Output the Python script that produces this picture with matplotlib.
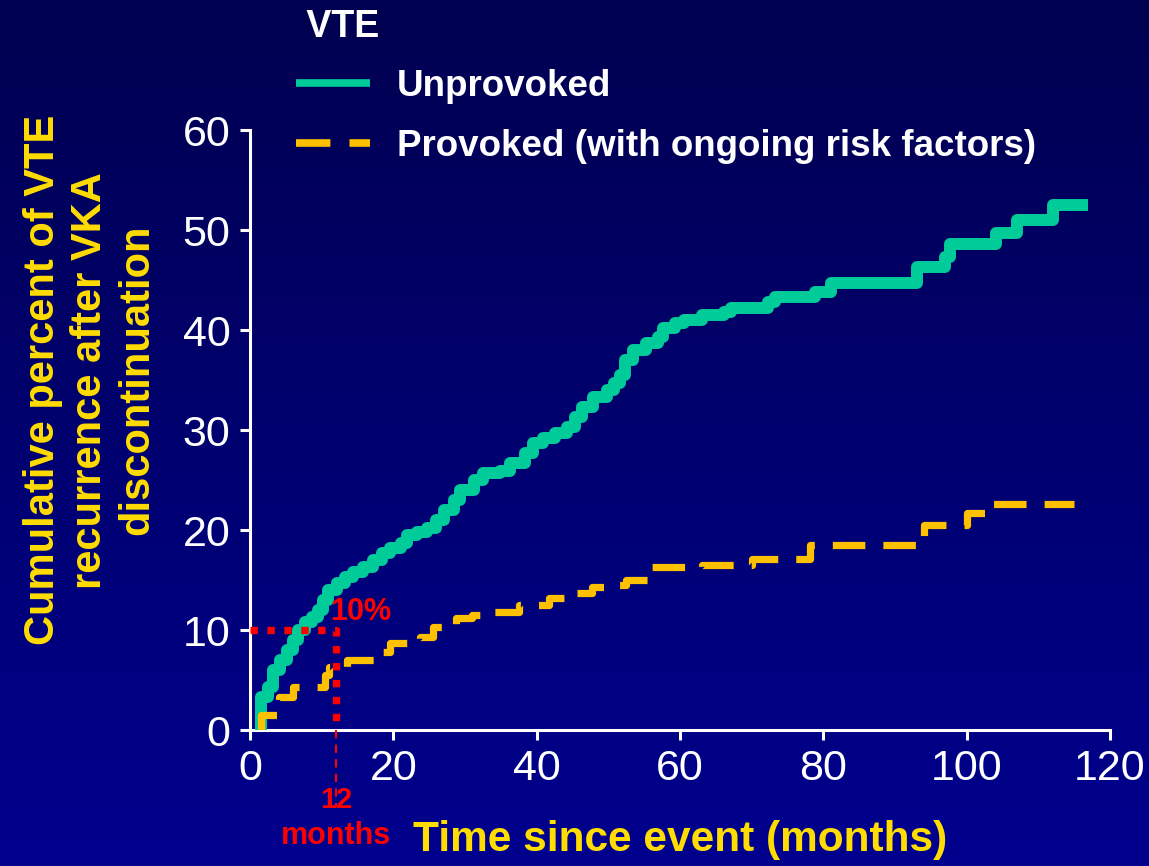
import numpy as np
import matplotlib
matplotlib.use("Agg")
import matplotlib.pyplot as plt
from matplotlib.colors import LinearSegmentedColormap

plt.rcParams['font.family'] = ['Liberation Sans', 'DejaVu Sans']

# ---------------- data ----------------
unprov_t = [1.5, 1.5, 2.5, 3.2, 4.2, 5.1, 6.0, 6.7, 7.7, 8.7, 9.5, 10.2, 10.9, 12.1,
            13.3, 14.4, 15.8, 17.2, 18.4, 19.5, 21.0, 21.9, 23.3, 24.7, 26.0, 27.0,
            28.4, 29.3, 31.2, 32.5, 34.9, 36.3, 38.4, 39.5, 40.9, 42.6, 44.2, 45.4,
            46.3, 47.9, 49.8, 50.8, 51.6, 52.3, 53.5, 55.2, 56.9, 57.6, 59.3, 60.5,
            63.0, 66.1, 67.1, 72.3, 73.3, 78.8, 81.1, 93.1, 97.0, 97.7, 104.1, 107.0,
            112.0, 116.9]
unprov_v = [0.0, 3.3, 4.3, 6.0, 7.0, 8.0, 9.0, 10.0, 10.8, 11.3, 12.0, 13.0, 14.0, 14.7,
            15.3, 15.8, 16.3, 17.0, 17.7, 18.2, 18.7, 19.5, 19.8, 20.2, 21.0, 22.0,
            23.0, 24.0, 25.0, 25.7, 25.9, 26.7, 27.7, 28.7, 29.2, 29.7, 30.3, 31.3,
            32.3, 33.3, 34.0, 34.7, 35.5, 37.0, 38.0, 38.7, 39.3, 40.2, 40.7, 41.0,
            41.5, 41.8, 42.2, 42.8, 43.3, 43.8, 44.7, 46.3, 47.3, 48.6, 49.7, 51.0,
            52.5, 52.5]

prov_t = [1.3, 1.5, 4.0, 6.0, 10.5, 11.0, 13.5, 17.3, 19.5, 23.7, 25.5, 28.7, 31.0,
          32.3, 37.5, 41.7, 44.0, 47.7, 50.0, 52.5, 56.0, 63.0, 70.0, 78.2, 94.0,
          100.0, 103.7, 115.0]
prov_v = [0.0, 1.5, 3.3, 4.3, 5.5, 6.3, 7.0, 7.8, 8.7, 9.3, 10.3, 11.2, 11.5,
          11.8, 12.5, 13.2, 13.7, 14.3, 14.5, 15.0, 16.3, 16.5, 17.1, 18.5, 20.5,
          21.7, 22.6, 22.6]

ref_x = [0, 12, 12]
ref_y = [10, 10, 0]

x_ticks = [0, 20, 40, 60, 80, 100, 120]
y_ticks = [0, 10, 20, 30, 40, 50, 60]

GREEN = '#00CC99'
GOLD = '#FFC000'
YEL = '#FFDD00'
RED = '#FF0000'

# ---------------- figure ----------------
fig = plt.figure(figsize=(11.49, 8.66), dpi=100)

bg = fig.add_axes([0, 0, 1, 1], zorder=-10)
cmap = LinearSegmentedColormap.from_list('bg', ['#000050', '#00008E'])
grad = np.linspace(0, 1, 256).reshape(-1, 1)
bg.imshow(grad, aspect='auto', cmap=cmap, extent=[0, 1, 0, 1], origin='upper')
bg.set_axis_off()

ax = fig.add_axes([0.2176, 0.157, 0.7485, 0.6928])
ax.set_facecolor('none')

ax.plot(unprov_t, unprov_v, drawstyle='steps-post', color=GREEN, lw=8.6,
        solid_joinstyle='round', solid_capstyle='butt', label='Unprovoked', zorder=3)
ax.plot(prov_t, prov_v, drawstyle='steps-post', color=GOLD, lw=5.2,
        linestyle=(0, (4.5, 2.5)), dash_capstyle='butt', dash_joinstyle='round',
        label='Provoked (with ongoing risk factors)', zorder=3)

ax.plot(ref_x, ref_y, color=RED, lw=5.3, linestyle=(0, (1, 1.3)),
        dash_capstyle='butt', zorder=4, clip_on=False)
ax.plot([12, 12], [0, -7.7], color=RED, lw=1.5, linestyle=(0, (4, 3)),
        clip_on=False, zorder=5)

ax.text(11.2, 11.8, '10%', color=RED, fontsize=22, fontweight='bold',
        ha='left', va='center', zorder=5)
ax.text(12, -7.0, '12', color=RED, fontsize=21, fontweight='bold',
        ha='center', va='center', clip_on=False)
ax.text(12, -10.6, 'months', color=RED, fontsize=22, fontweight='bold',
        ha='center', va='center', clip_on=False)

ax.set_xlim(0, 120)
ax.set_ylim(0, 60)
ax.set_xticks(x_ticks)
ax.set_yticks(y_ticks)
for s in ['top', 'right']:
    ax.spines[s].set_visible(False)
for s in ['left', 'bottom']:
    ax.spines[s].set_color('white')
    ax.spines[s].set_linewidth(2.2)
ax.tick_params(axis='both', colors='white', direction='out', length=7, width=2.2,
               labelsize=31)
ax.tick_params(axis='x', pad=7)
ax.tick_params(axis='y', pad=7)

fig.text(90 / 1149, 0.561,
         'Cumulative percent of VTE\nrecurrence after VKA\ndiscontinuation',
         rotation=90, color=YEL, fontsize=30, fontweight='bold',
         ha='center', va='center', multialignment='center', linespacing=1.22)
fig.text(0.592, 0.030, 'Time since event (months)', color=YEL, fontsize=30.5,
         fontweight='bold', ha='center', va='center')

leg = ax.legend(loc='upper left', bbox_to_anchor=(296 / 1149, 1 - 9 / 866),
                bbox_transform=fig.transFigure, frameon=False, title=' VTE',
                alignment='left', fontsize=26.5, title_fontsize=27,
                handlelength=2.0, handletextpad=0.75, labelspacing=0.66,
                borderpad=0, borderaxespad=0)
for t in leg.get_texts():
    t.set_color('white')
    t.set_fontweight('bold')
leg.get_title().set_color('white')
leg.get_title().set_fontweight('bold')
leg.legend_handles[0].set_linewidth(5.5)
leg.legend_handles[1].set_linewidth(5.5)

fig.savefig('out.png', dpi=100)
